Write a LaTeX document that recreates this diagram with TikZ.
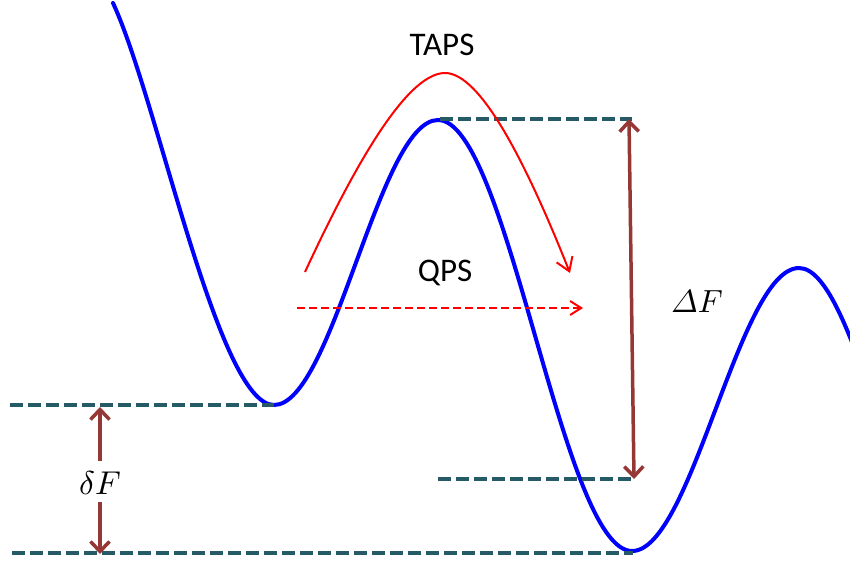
\documentclass[tikz,border=0pt]{standalone}
\usepackage{amsmath}
\usepackage{fontspec}
\setmainfont{Carlito}
\usetikzlibrary{arrows.meta}
\definecolor{curveblue}{HTML}{0000FF}
\definecolor{pathred}{HTML}{FF0000}
\definecolor{levelteal}{HTML}{255A66}
\definecolor{gapbrown}{HTML}{953735}
\tikzset{
  energycurve/.style={draw=curveblue, line width=4pt, line cap=round},
  levelline/.style={draw=levelteal, line width=3.5pt, dash pattern=on 12.5pt off 5.5pt},
  gaparrow/.style={draw=gapbrown, line width=3.5pt, -{Straight Barb[length=10pt,width=19pt,line width=3.5pt]}},
  gaparrows/.style={draw=gapbrown, line width=3.5pt, {Straight Barb[length=10pt,width=19pt,line width=3.5pt]}-{Straight Barb[length=10pt,width=19pt,line width=3.5pt]}},
  tapsarrow/.style={draw=pathred, line width=2pt, -{Straight Barb[length=13pt,width=17pt,line width=2pt]}},
  qpsarrow/.style={draw=pathred, line width=2pt, dash pattern=on 8pt off 4pt, -{Straight Barb[length=11pt,width=14pt,line width=2pt]}},
  pathlabel/.style={font=\fontsize{33}{38}\selectfont, inner sep=0pt},
  gaplabel/.style={inner sep=0pt}
}
\begin{document}
\begin{tikzpicture}[x=1pt,y=-1pt]
\useasboundingbox (0,0) rectangle (850,560);
% energy landscape
\begin{scope}
\clip (0,0) rectangle (850,560);
\draw[energycurve] (113,3) .. controls (158,100) and (218,405) .. (274,405)
  .. controls (333,405) and (379,120) .. (438,120)
  .. controls (508,120) and (562,551) .. (632,551)
  .. controls (692,551) and (739,268) .. (799,268)
  .. controls (857,268) and (901,568) .. (959,568);
\end{scope}
% level lines
\coordinate (topL) at (440,119);
\coordinate (topR) at (632,119);
\coordinate (midL) at (438,479);
\coordinate (midR) at (632,479);
\coordinate (minL) at (10,405);
\coordinate (minR) at (274,405);
\coordinate (botL) at (12,553);
\coordinate (botR) at (633,553);
\draw[levelline] (topL) -- (topR);
\draw[levelline] (midL) -- (midR);
\draw[levelline] (minL) -- (minR);
\draw[levelline] (botL) -- (botR);
% Delta F
\coordinate (dFtop) at (629,119);
\coordinate (dFbot) at (634,479);
\draw[gaparrows] (dFtop) -- (dFbot);
\node[gaplabel] (DeltaF) at (697,302) {\scalebox{3.2}{$\varDelta F$}};
% delta F
\node[gaplabel] (deltaF) at (100,483) {\scalebox{3.3}{$\delta F$}};
\coordinate (dfupS) at (100,461);
\coordinate (dfup) at (100,407);
\coordinate (dfdownS) at (100,502);
\coordinate (dfdown) at (100,554);
\draw[gaparrow] (dfupS) -- (dfup);
\draw[gaparrow] (dfdownS) -- (dfdown);
% TAPS
\node[pathlabel] (taps) at (442,45) {TAPS};
\coordinate (tapsS) at (305,272);
\coordinate (tapsP) at (445,73);
\coordinate (tapsE) at (570,273);
\draw[tapsarrow] (tapsS) .. controls (350,175) and (405,73) .. (tapsP)
  .. controls (480,73) and (525,160) .. (tapsE);
% QPS
\node[pathlabel] (qps) at (445,273) {QPS};
\coordinate (qpsS) at (297,308);
\coordinate (qpsE) at (583,308);
\draw[qpsarrow] (qpsS) -- (qpsE);
\end{tikzpicture}
\end{document}
